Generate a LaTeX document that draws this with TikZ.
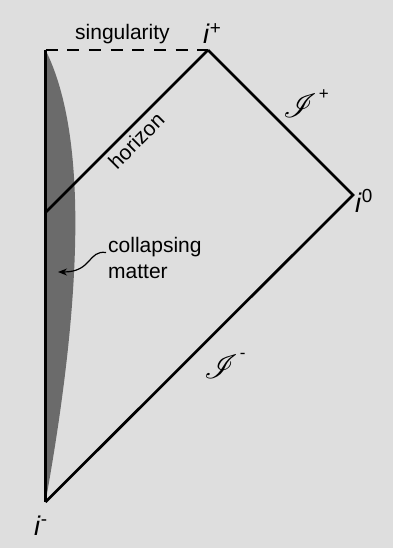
\documentclass[tikz,border=0pt]{standalone}
\usepackage{fontspec}
\setmainfont{Liberation Sans}
\usepackage{mathrsfs}
\usepackage{graphicx}
\usepackage{tikz}
\usetikzlibrary{arrows.meta}
\definecolor{bggray}{RGB}{222,222,222}
\definecolor{mattergray}{RGB}{107,107,107}
\newcommand{\ipt}[1]{\textit{i}\textsuperscript{#1}}
\newcommand{\scri}[2]{\scalebox{1.35}{$\mathscr{I}$}\kern2pt\raisebox{#2}{\fontsize{17}{17}\selectfont #1}}

\begin{document}
\begin{tikzpicture}[x=1pt, y=-1pt, font=\fontsize{21}{26}\selectfont,
  edge/.style={line width=2.7pt, black},
  ptlabel/.style={font=\fontsize{27}{27}\selectfont, inner sep=0pt, anchor=base west},
  scrilabel/.style={font=\fontsize{24.88}{25}\selectfont, inner sep=0pt, anchor=base west}]
  % background
  \useasboundingbox (0,0) rectangle (393,548);
  \fill[bggray] (0,0) rectangle (393,548);

  % corners of the diagram
  \coordinate (sing) at (45.5,50);
  \coordinate (ip) at (208,50);
  \coordinate (izero) at (353,195);
  \coordinate (im) at (45.5,502);
  \coordinate (hor) at (45.5,212.5);

  % --- collapsing matter ---
  \fill[mattergray] (sing) .. controls (90.5,140) and (79.7,312) .. (im) -- cycle;

  % --- boundaries ---
  \draw[edge, dashed, dash pattern=on 12pt off 9.7pt] (sing) -- (ip);
  \draw[edge, line join=miter] (im) -- (sing);
  \draw[edge, line join=miter] (ip) -- (izero) -- (im);
  \draw[edge] (hor) -- (ip) node[midway, sloped, below=1pt] (horlab) {horizon};

  % --- labels ---
  \node[inner sep=0pt, anchor=base west] (singlab) at (75,40) {singularity};
  \node[ptlabel] (iplab) at (203,44) {\ipt{+}};
  \node[ptlabel] (izerolab) at (355,212) {\ipt{0}};
  \node[ptlabel] (imlab) at (34,535) {\ipt{-}};
  \node[scrilabel] (scrip) at (283,118) {\scri{+}{18pt}};
  \node[scrilabel] (scrim) at (204,378) {\scri{-}{20pt}};

  % matter label and pointer
  \node[inner sep=0pt, anchor=base west, align=left] (matlab) at (108,278) {collapsing\\matter};
  \coordinate (mattip) at (58,272);
  \draw[-{Stealth[length=9pt, width=7pt]}, line width=1.2pt]
    ([xshift=-2pt, yshift=5pt]matlab.west) .. controls (88,250) and (92,272) .. (mattip);
\end{tikzpicture}
\end{document}
